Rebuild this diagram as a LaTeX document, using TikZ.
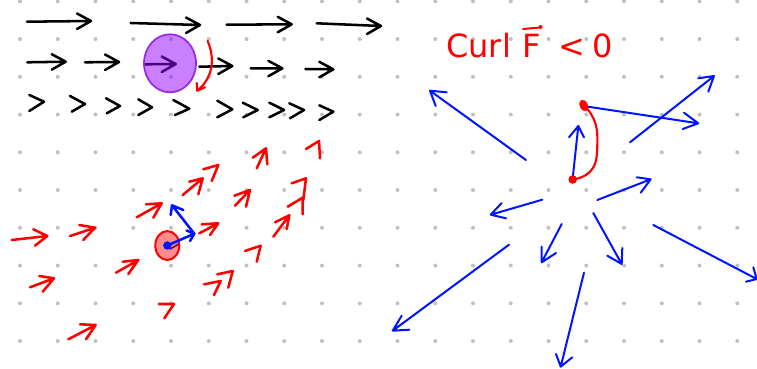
\documentclass[tikz,border=0pt]{standalone}
\usepackage{fontspec}
\setsansfont{DejaVu Sans}
\usetikzlibrary{arrows.meta}
\definecolor{dotgray}{RGB}{192,192,192}
\definecolor{pfill}{RGB}{150,0,255}
\definecolor{pline}{RGB}{150,40,235}
\definecolor{bl}{RGB}{0,20,255}
\definecolor{rd}{RGB}{255,0,0}
\newcommand\sarr[5]{\draw[#1] #2 -- #3 -- #4 #3 -- #5;}
\newcommand\shead[4]{\draw[#1] #3 -- #2 -- #4;}
\newcommand\karr[2]{\draw[blk] #1 -- #2 ++(-14,-7.5) -- #2 -- ++(-14,8);}
\begin{document}
\begin{tikzpicture}[x=0.75pt,y=-0.75pt,
  blk/.style={black, line width=1.9pt, line cap=round, line join=round},
  ra/.style={rd, line width=1.9pt, line cap=round, line join=round},
  ba/.style={bl, line width=1.5pt, line cap=round, line join=round},
  hand/.style={anchor=base west, inner sep=0, text=rd, font=\sffamily\fontsize{24}{24}\selectfont}]
\useasboundingbox (0,0) rectangle (757,368);
\fill[white] (0,0) rectangle (757,368);
\foreach \i in {0,...,19}\foreach \j in {0,...,9}
  \fill[dotgray] ({20+37.75*\i},{1.3+37.75*\j}) circle (2);
% black field, row 1
\karr{(27,21.7)}{(91,21)}
\karr{(130.7,23)}{(200,25)}
\karr{(226.7,24.7)}{(291.7,24.3)}
\karr{(316.7,23.3)}{(381,26)}
% row 2
\karr{(27.3,62.3)}{(65.7,61.7)}
\karr{(85,62.3)}{(119,62)}
\karr{(145,64.3)}{(175.7,64)}
\karr{(199.3,66.7)}{(232.3,66)}
\karr{(250.7,68.3)}{(282.3,68.3)}
\karr{(305.3,69)}{(333.3,69.3)}
% row 3 chevrons
\draw[blk] (29.3,95) -- (44,101.7) -- (29.3,111);
\draw[blk] (70,96) -- (85,104) -- (71.7,111.7);
\draw[blk] (106,98.3) -- (120,106) -- (106.7,113.3);
\draw[blk] (138.3,99.3) -- (152,107.3) -- (138.3,115);
\draw[blk] (173.3,100) -- (189.3,108.7) -- (175,115);
\draw[blk] (217.3,100.7) -- (232.3,109.3) -- (217.3,117.3);
\draw[blk] (242.7,102.7) -- (257.7,110) -- (243.3,117.3);
\draw[blk] (269.3,102.7) -- (284,110) -- (269.3,117.3);
\draw[blk] (289.3,103.3) -- (304,110) -- (290,118.3);
\draw[blk] (319.3,105.3) -- (333.3,111.7) -- (319.3,120);
% purple circle
\draw[pline, line width=1.3pt, fill=pfill, fill opacity=0.5] (170,63.3) ellipse (26 and 29);
% red turning arrow
\draw[ra, line width=1.6pt] (207.7,41) .. controls (214,56) and (215,76) .. (197.3,90.7);
\draw[ra, line width=1.6pt] (196.7,83) -- (197.3,90.7) -- (205,87.3);
% red field
\sarr{ra}{(11.7,240)}{(47.3,236)}{(33.3,229.3)}{(35,245.7)}
\sarr{ra}{(70,236)}{(95,227.7)}{(79.3,225)}{(83.3,240)}
\sarr{ra}{(136.7,217.3)}{(161.7,203.3)}{(146,204.3)}{(153.3,217.7)}
\sarr{ra}{(182.7,195)}{(202.7,178.3)}{(189.3,181.7)}{(198.3,194.3)}
\shead{ra}{(218.3,165)}{(203.3,169.3)}{(211.7,181)}
\sarr{ra}{(256.7,168.3)}{(266,148.3)}{(252.7,157.7)}{(267.3,164.3)}
\shead{ra}{(319,141)}{(306,149)}{(320,158.3)}
\sarr{ra}{(235,205.7)}{(250,190)}{(234.3,195.7)}{(246,206.7)}
\shead{ra}{(306,178.3)}{(291.7,183.3)}{(303.3,200)}
\shead{ra}{(302.7,197.7)}{(287.7,206.7)}{(302.7,214.3)}
\sarr{ra}{(273.3,236.7)}{(289.3,215.3)}{(275,222.3)}{(286.7,229)}
\sarr{ra}{(199.3,233.3)}{(218.3,223.3)}{(201.7,224.3)}{(210,235)}
\shead{ra}{(260.7,245.7)}{(245,251)}{(256.7,261.7)}
\shead{ra}{(220.7,281)}{(204,284.3)}{(214,295)}
\shead{ra}{(232.7,271)}{(217.3,274.3)}{(228.3,287.7)}
\sarr{ra}{(116,272.7)}{(138.3,260)}{(122.7,261.7)}{(128.3,274)}
\sarr{ra}{(30,287.3)}{(54,278.3)}{(39.3,276)}{(42.7,291.7)}
\shead{ra}{(174,304)}{(159,304)}{(164.3,318.3)}
\sarr{ra}{(68.3,339.3)}{(95.7,325)}{(80,324.3)}{(86,339.3)}
% red particle with blue vectors
\draw[rd, line width=1.5pt, fill=rd, fill opacity=0.45] (167.3,245.5) ellipse (12 and 14.5);
\draw[violet!80!black, line width=1.2pt, line cap=round] (170,249) -- (179,244);
\sarr{ba, line width=1.9pt}{(167.3,245.5)}{(194.3,233.7)}{(186.5,230.5)}{(190,241)}
\sarr{ba, line width=1.9pt}{(194.3,233.7)}{(172,205.3)}{(183.3,210)}{(170.7,215)}
\fill[bl] (167.3,245.5) circle (4.2);
% text
\node[hand] (curl) at (446,57) {Curl};
\node[hand] (fvec) at (522,57) {F};
\node[hand] (less) at (558,57) {<};
\node[hand] (zero) at (592,57) {0};
\draw[ra, line width=1.5pt] (523,29) -- (540,27.5);
\fill[rd] (540.5,27) circle (2);
% right blue field
\sarr{ba}{(526,160)}{(430,90.7)}{(446.7,92.3)}{(435.7,106)}
\sarr{ba}{(630,142.3)}{(714,76)}{(698.3,78.3)}{(708.3,91.7)}
\sarr{ba}{(583.3,106)}{(698.3,123.3)}{(684,112.7)}{(682.7,129)}
\sarr{ba}{(572.7,178.3)}{(578.3,126)}{(569,137.3)}{(584,137.3)}
\sarr{ba}{(597.3,200)}{(650.7,179.3)}{(636.7,177.3)}{(640.7,192.7)}
\sarr{ba}{(542.3,199.7)}{(490.7,214.7)}{(501.7,203)}{(506,218.3)}
\sarr{ba}{(561.7,224)}{(541.7,262.3)}{(541.7,246.7)}{(556,253)}
\sarr{ba}{(593.3,213)}{(621.7,264)}{(607.3,255.7)}{(622.3,248)}
\sarr{ba}{(653.3,225)}{(756.7,279)}{(753.3,267.3)}{(746,281.7)}
\sarr{ba}{(509,244.7)}{(392.7,330.7)}{(401.7,315.7)}{(409.3,329.7)}
\sarr{ba}{(584,272.7)}{(560.7,366.7)}{(556,354)}{(572.3,357.3)}
% red curve between dots
\draw[ra, line width=1.6pt] (584,105) .. controls (596,118) and (598,128) .. (597.3,145) .. controls (597,160) and (596,168) .. (586,175) .. controls (581,178) and (576,179) .. (572.7,179.5);
\fill[rd, rotate around={25:(583.8,105.5)}] (583.8,105.5) ellipse (4 and 6);
\fill[rd] (572.7,179.5) circle (4.3);
\end{tikzpicture}
\end{document}
